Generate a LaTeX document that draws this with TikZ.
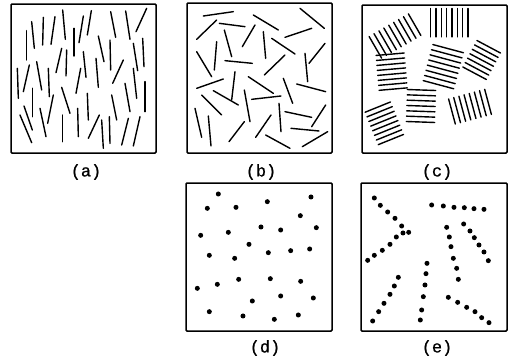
\documentclass[tikz,border=0pt]{standalone}
\usepackage{fontspec}
\newfontfamily\capfont[FakeBold=0.8]{Liberation Mono}
\usepackage{tikz}
\usetikzlibrary{positioning}
% one stack of parallel rods: centre x, centre y, angle, count, spacing, length
\newcommand\lamella[6]{\begin{scope}[shift={(#1,#2)}, rotate=#3]
  \foreach \k in {1,...,#4}
    \draw[rod] ({-#6/2},{(\k-(#4+1)/2)*#5}) -- ({#6/2},{(\k-(#4+1)/2)*#5});
\end{scope}}
\begin{document}
\begin{tikzpicture}[x=1pt, y=-1pt, font=\capfont\fontsize{17}{20}\selectfont,
          frame/.style={line width=1.5pt, rounded corners=1pt},
          rod/.style={line width=1.4pt, line cap=round},
          zoomed/.style={scale=1/3}]
        \useasboundingbox (0,0) rectangle (512,364);
        % frames
        \draw[frame] (11,4) rectangle (156,153);
        \draw[frame] (187,3) rectangle (332,153);
        \draw[frame] (362,5) rectangle (507,153);
        \draw[frame] (186,183) rectangle (332,331);
        \draw[frame] (361,183) rectangle (507,331);
        % captions
        \node (la) at (86,172) {(a)};
        \node (lb) at (261,172) {(b)};
        \node (lc) at (437,172) {(c)};
        \node (ld) at (265,348) {(d)};
        \node (le) at (437,348) {(e)};
        % (a) nematic
        \begin{scope}[zoomed]
          \foreach \xa/\ya/\xb/\yb in {188/30/196/118, 274/32/262/105, 332/35/347/112, 377/33/390/118,
              440/25/408/95, 95/65/103/145, 130/52/128/135, 165/50/153/133, 80/92/80/180,
              222/85/222/168, 250/48/237/128, 295/108/312/185, 330/120/332/210, 428/115/432/200,
              400/130/413/212, 185/145/168/218, 200/150/198/228, 250/155/258/232, 288/175/295/262,
              370/180/338/250, 52/205/55/295, 88/195/70/275, 110/185/125/270, 145/205/148/290,
              242/205/228/280, 400/205/410/295, 435/245/435/335, 375/250/390/335, 185/262/210/340,
              262/280/265/360, 97/265/97/350, 160/285/143/370, 335/285/350/360, 72/318/97/390,
              60/345/95/428, 120/325/138/410, 188/345/188/425, 233/325/235/410, 298/345/265/415,
              305/360/310/445, 328/350/330/430, 385/355/365/435, 420/350/400/438}
            \draw[rod] (\xa,\ya) -- (\xb,\yb);
        \end{scope}
        % (b) isotropic
        \begin{scope}[zoomed, shift={(495,0)}]
          \foreach \xa/\ya/\xb/\yb in {115/48/205/35, 265/45/340/90, 405/25/478/85, 163/70/240/80,
              155/60/95/118, 270/75/232/140, 178/90/200/170, 295/95/302/175, 360/112/440/85,
              320/115/390/162, 480/130/432/190, 95/155/140/230, 155/125/148/210, 180/182/262/190,
              420/160/428/245, 360/165/298/225, 95/265/175/237, 210/215/200/300, 250/230/325/280,
              355/235/383/310, 395/252/482/275, 110/285/170/345, 145/272/220/315, 238/270/255/365,
              260/298/348/288, 90/325/110/412, 130/348/138/438, 342/310/348/395, 360/335/440/352,
              482/315/440/380, 238/365/192/425, 318/345/272/412, 378/385/462/393, 302/405/375/445,
              488/395/412/440}
            \draw[rod] (\xa,\ya) -- (\xb,\yb);
        \end{scope}
        % (c) domains
        \begin{scope}[zoomed, shift={(1005,0)}]
          \lamella{180}{108}{-60}{9}{17}{75}
          \lamella{343}{68}{90}{8}{16}{85}
          \lamella{170}{215}{5}{8}{15}{85}
          \lamella{325}{200}{-15}{8}{16}{95}
          \lamella{440}{180}{-28}{7}{15}{80}
          \lamella{258}{318}{-2}{7}{16}{85}
          \lamella{405}{320}{-75}{8}{16}{78}
          \lamella{148}{370}{22}{8}{15}{82}
        \end{scope}
        % (d) random points
        \begin{scope}[zoomed, shift={(495,525)}]
          \foreach \px/\py in {160/57, 438/66, 127/100, 213/97, 307/80, 406/122, 288/156, 347/165,
              454/158, 107/181, 190/172, 252/208, 133/241, 209/250, 310/233, 377/227, 434/222,
              97/340, 157/328, 221/313, 316/311, 407/319, 262/378, 347/363, 445/369, 133/410,
              234/423, 328/433, 400/420}
            \fill (\px,\py) circle (7.5);
        \end{scope}
        % (e) chains of points
        \begin{scope}[zoomed, shift={(1005,525)}]
          \foreach \px/\py in {118/69, 136/91, 158/111, 180/130, 200/153, 204/174, 221/172,
              184/186, 165/208, 142/226, 118/241, 98/256,
              290/90, 325/93, 357/97, 388/98, 417/101, 447/103,
              335/157, 343/186, 348/215, 355/250, 365/280, 370/313,
              386/147, 405/168, 418/188, 432/210, 447/231, 460/257,
              276/265, 273/296, 270/330, 265/365, 260/405, 256/435,
              190/307, 178/333, 165/358, 147/385, 131/410, 113/438,
              340/367, 368/382, 395/397, 420/410, 440/428, 462/443}
            \fill (\px,\py) circle (7.5);
        \end{scope}
      \end{tikzpicture}
\end{document}
